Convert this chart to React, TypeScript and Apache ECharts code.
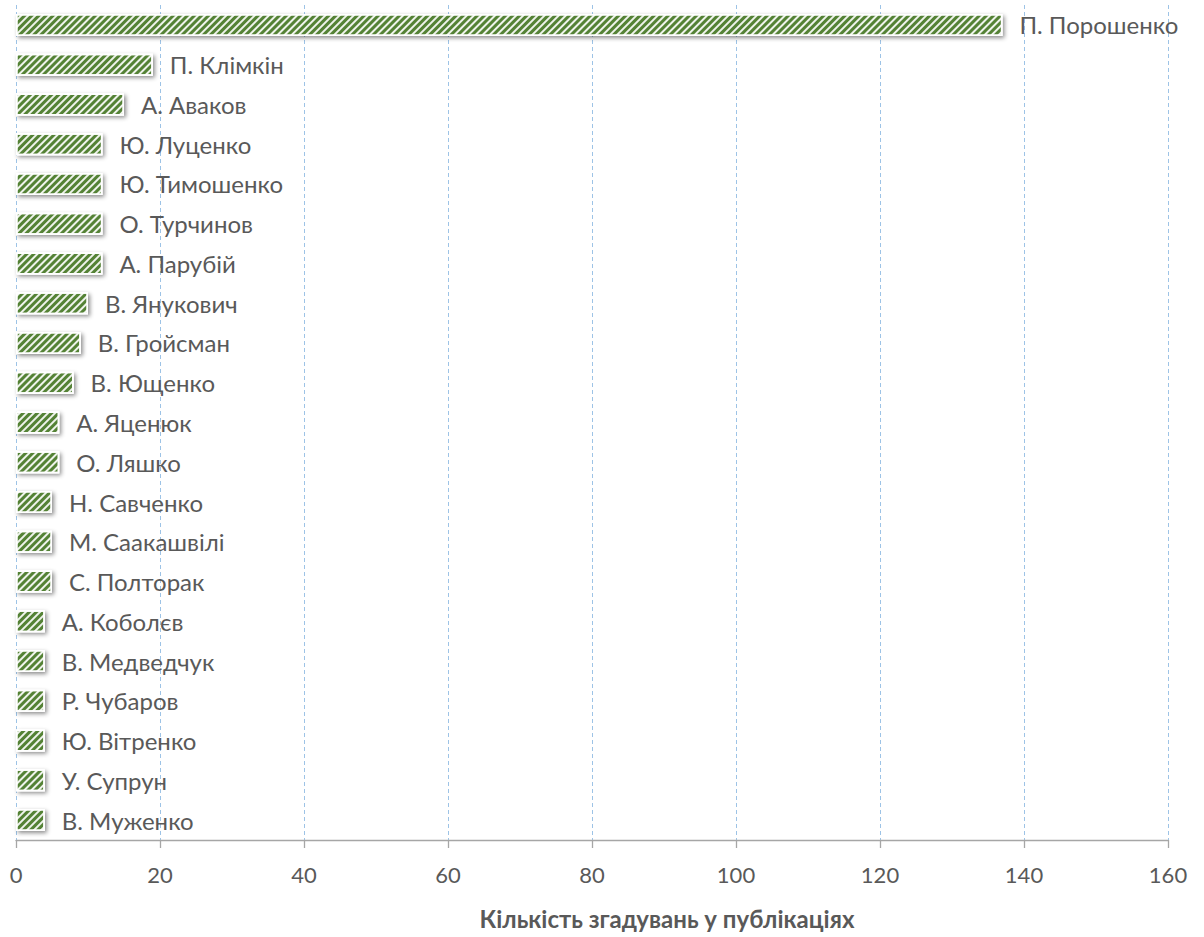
import React, { useEffect, useRef } from "react";
import * as echarts from "echarts";

const names = [
  "П. Порошенко",
  "П. Клімкін",
  "А. Аваков",
  "Ю. Луценко",
  "Ю. Тимошенко",
  "О. Турчинов",
  "А. Парубій",
  "В. Янукович",
  "В. Гройсман",
  "В. Ющенко",
  "А. Яценюк",
  "О. Ляшко",
  "Н. Савченко",
  "М. Саакашвілі",
  "С. Полторак",
  "А. Коболєв",
  "В. Медведчук",
  "Р. Чубаров",
  "Ю. Вітренко",
  "У. Супрун",
  "В. Муженко",
];

const mentions = [137, 19, 15, 12, 12, 12, 12, 10, 9, 8, 6, 6, 5, 5, 5, 4, 4, 4, 4, 4, 4];

const axisTitle = "Кількість згадувань у публікаціях";

export default function App() {
  const ref = useRef<HTMLDivElement>(null);
  useEffect(() => {
    document.body.style.margin = "0";
    const chart = echarts.init(ref.current!, null, { renderer: "svg" });
    chart.setOption({
      animation: false,
      textStyle: { fontFamily: "Lato, 'Noto Sans', sans-serif" },
      grid: {
        left: 16,
        right: 36,
        top: 5,
        bottom: 97,
        containLabel: false,
        outerBoundsMode: "none",
      },
      xAxis: {
        type: "value",
        min: 0,
        max: 160,
        interval: 20,
        name: axisTitle,
        nameLocation: "middle",
        nameGap: 66,
        nameTextStyle: {
          color: "#595959",
          fontSize: 24,
          fontWeight: "bold",
          fontFamily: "Lato, sans-serif",
          padding: [0, 0, 0, 150],
        },
        axisLine: { show: true, lineStyle: { color: "#A6A6A6", width: 1.3 } },
        axisTick: { show: true, length: 8, lineStyle: { color: "#A6A6A6", width: 1.3 } },
        axisLabel: { color: "#595959", fontSize: 22, margin: 23, fontFamily: "Lato, sans-serif" },
        splitLine: {
          show: true,
          lineStyle: { color: "#9DC3E6", type: [4, 3], width: 1 },
        },
      },
      yAxis: {
        type: "category",
        data: names,
        inverse: true,
        axisLine: { show: false },
        axisTick: { show: false },
        axisLabel: { show: false },
        splitLine: { show: false },
      },
      series: [
        {
          type: "bar",
          data: mentions,
          barWidth: 22,
          silent: true,
          itemStyle: {
            color: "#ffffff",
            borderColor: "#ffffff",
            borderWidth: 1.5,
            shadowBlur: 4,
            shadowOffsetX: 2,
            shadowOffsetY: 2,
            shadowColor: "rgba(0,0,0,0.45)",
          },
        },
        {
          type: "bar",
          data: mentions,
          barWidth: 22,
          barGap: "-100%",
          itemStyle: {
            color: "#548235",
            borderColor: "#ffffff",
            borderWidth: 1.5,
            decal: {
              symbol: "rect",
              symbolSize: 1,
              color: "rgba(255,255,255,0.9)",
              dashArrayX: [1, 0],
              dashArrayY: [1.5, 2.8],
              rotation: -Math.PI / 4,
            },
          },
          label: {
            show: true,
            position: "right",
            distance: 17,
            formatter: (p: any) => names[p.dataIndex],
            color: "#595959",
            fontSize: 24,
            fontFamily: "Lato, sans-serif",
          },
        },
      ],
    });
    return () => chart.dispose();
  }, []);
  return <div ref={ref} style={{ width: 1204, height: 937 }} />;
}
